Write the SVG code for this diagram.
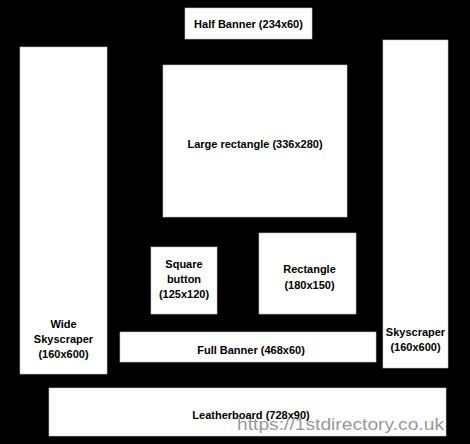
<svg xmlns="http://www.w3.org/2000/svg" width="470" height="444" viewBox="0 0 470 444">
<style>
.box{fill:#fff;stroke:#c8c8c8;stroke-width:0.6}
.t{font-family:"Liberation Sans",Arial,sans-serif;font-weight:bold;font-size:11px;fill:#000;text-anchor:middle}
.wm{font-family:"Liberation Sans",Arial,sans-serif;font-size:17px;fill:#8a8a8a;fill-opacity:0.9}
</style>
<rect x="0" y="0" width="470" height="444" fill="#000"/>
<g id="half-banner"><rect class="box" x="185" y="8" width="127" height="31"/><text class="t" x="248.5" y="28">Half Banner (234x60)</text></g>
<g id="wide-skyscraper"><rect class="box" x="20" y="47" width="87" height="327"/><text class="t" x="63.5" y="328">Wide</text><text class="t" x="63.5" y="343">Skyscraper</text><text class="t" x="63.5" y="358">(160x600)</text></g>
<g id="large-rectangle"><rect class="box" x="163" y="65" width="184" height="152"/><text class="t" x="255" y="148">Large rectangle (336x280)</text></g>
<g id="skyscraper"><rect class="box" x="383" y="40" width="65" height="328"/><text class="t" x="415.5" y="336">Skyscraper</text><text class="t" x="415.5" y="351">(160x600)</text></g>
<g id="square-button"><rect class="box" x="151" y="247" width="66" height="67"/><text class="t" x="184" y="268">Square</text><text class="t" x="184" y="283">button</text><text class="t" x="184" y="298">(125x120)</text></g>
<g id="rectangle"><rect class="box" x="259" y="233" width="97" height="81"/><text class="t" x="309.5" y="273">Rectangle</text><text class="t" x="309.5" y="289">(180x150)</text></g>
<g id="full-banner"><rect class="box" x="120" y="332" width="256" height="30"/><text class="t" x="251" y="354">Full Banner (468x60)</text></g>
<g id="leatherboard"><rect class="box" x="49" y="388" width="397" height="48"/><text class="t" x="251" y="419">Leatherboard (728x90)</text></g>
<g id="connectors"></g>
<text class="wm" x="237" y="430" textLength="207" lengthAdjust="spacingAndGlyphs">https://1stdirectory.co.uk</text>
</svg>
